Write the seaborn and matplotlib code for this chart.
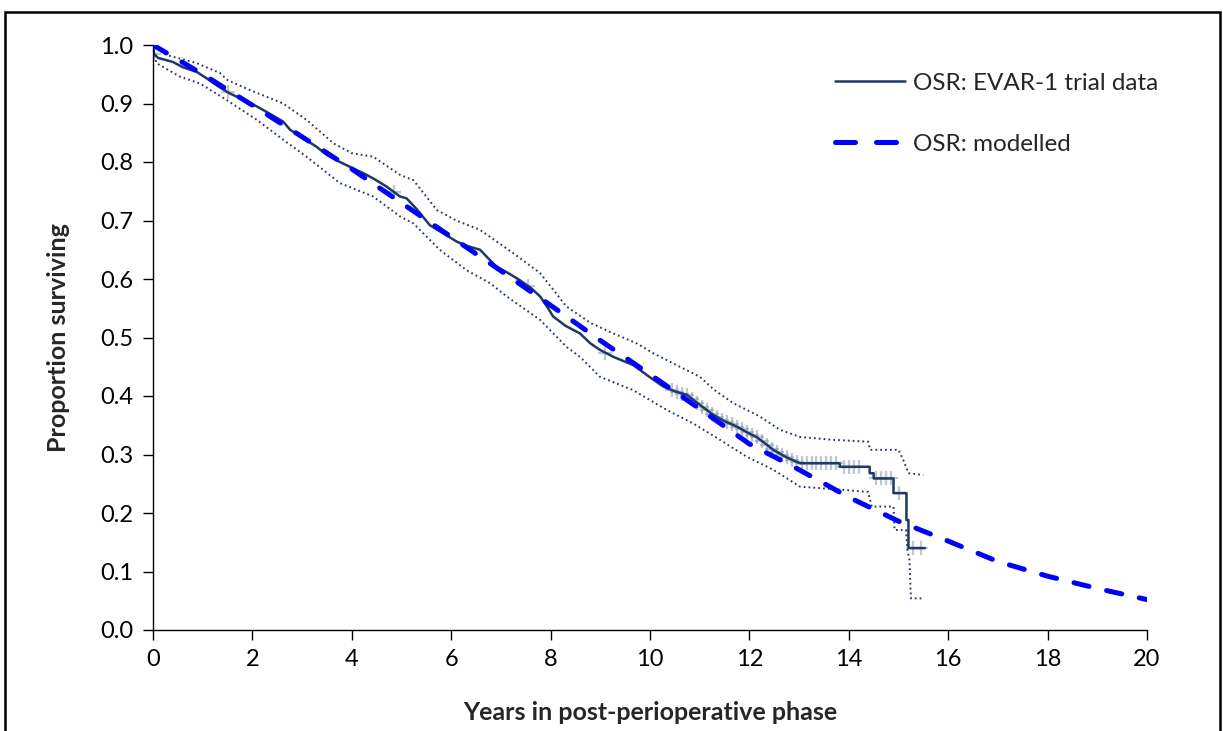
import numpy as np
import pandas as pd
import matplotlib
matplotlib.use("Agg")
import matplotlib.pyplot as plt
from matplotlib.lines import Line2D
from matplotlib.patches import Rectangle
import seaborn as sns

# ---- data ----
km_time = [0.0, 0.02, 0.1, 0.4, 0.6, 0.88, 1.08, 1.3, 1.55, 1.75, 2.09, 2.4, 2.62, 2.76,
           3.0, 3.29, 3.5, 3.76, 4.03, 4.25, 4.43, 4.70, 4.97, 5.1, 5.3, 5.57, 5.8, 6.11,
           6.3, 6.58, 6.75, 6.91, 7.15, 7.38, 7.6, 7.79, 7.95, 8.05, 8.3, 8.59, 8.8, 8.99,
           9.26, 9.66, 9.95, 10.27, 10.5, 10.74, 11.0, 11.27, 11.5, 11.74, 11.95, 12.14,
           12.3, 12.48, 12.75, 13.02, 13.82, 13.82, 14.42, 14.42, 14.5, 14.5, 14.9, 14.9,
           15.16, 15.16, 15.2, 15.2, 15.53]
km_surv = [1.0, 0.985, 0.978, 0.971, 0.962, 0.954, 0.943, 0.93, 0.917, 0.909, 0.895, 0.88,
           0.869, 0.855, 0.842, 0.826, 0.812, 0.80, 0.789, 0.78, 0.772, 0.758, 0.741, 0.738,
           0.72, 0.692, 0.68, 0.664, 0.657, 0.650, 0.635, 0.621, 0.61, 0.598, 0.585, 0.570,
           0.55, 0.536, 0.52, 0.507, 0.49, 0.479, 0.467, 0.453, 0.435, 0.416, 0.408, 0.402,
           0.385, 0.368, 0.357, 0.348, 0.338, 0.330, 0.32, 0.308, 0.295, 0.285, 0.285, 0.279,
           0.279, 0.268, 0.268, 0.259, 0.259, 0.234, 0.234, 0.188, 0.188, 0.14, 0.14]

upper_time = [0.0, 0.27, 0.88, 1.35, 1.5, 1.95, 2.62, 3.09, 3.63, 4.0, 4.43, 4.97, 5.24,
              5.71, 6.1, 6.58, 7.25, 7.79, 8.32, 8.8, 9.26, 9.73, 10.07, 10.6, 11.0, 11.3,
              11.67, 12.21, 12.62, 13.02, 13.69, 14.39, 14.43, 15.0, 15.1, 15.2, 15.5]
upper_surv = [1.0, 0.983, 0.969, 0.952, 0.94, 0.923, 0.900, 0.872, 0.832, 0.815, 0.809,
              0.778, 0.769, 0.718, 0.70, 0.684, 0.644, 0.610, 0.553, 0.525, 0.507, 0.49,
              0.473, 0.450, 0.433, 0.41, 0.388, 0.365, 0.342, 0.330, 0.325, 0.322, 0.308,
              0.308, 0.29, 0.268, 0.265]

lower_time = [0.0, 0.07, 0.54, 0.95, 1.48, 2.09, 2.62, 3.09, 3.76, 4.43, 4.97, 5.24, 5.77,
              6.31, 6.78, 7.12, 7.79, 8.32, 8.59, 8.99, 9.66, 10.34, 10.87, 11.41, 11.95,
              12.48, 13.02, 13.82, 14.39, 14.46, 14.9, 14.92, 15.15, 15.18, 15.22, 15.25,
              15.46]
lower_surv = [0.99, 0.969, 0.946, 0.934, 0.906, 0.872, 0.838, 0.809, 0.764, 0.741, 0.707,
              0.695, 0.650, 0.615, 0.593, 0.570, 0.530, 0.484, 0.467, 0.433, 0.41, 0.376,
              0.353, 0.325, 0.296, 0.274, 0.245, 0.24, 0.236, 0.211, 0.211, 0.171, 0.171,
              0.137, 0.12, 0.054, 0.054]

model_time = list(range(0, 21))
model_surv = [1.0, 0.95, 0.897, 0.843, 0.788, 0.730, 0.672, 0.614, 0.555, 0.495, 0.437,
              0.378, 0.318, 0.274, 0.227, 0.186, 0.152, 0.117, 0.092, 0.071, 0.052]

censor_time = [0.02, 1.5, 4.85, 7.55, 9.1, 10.45, 10.55, 10.65, 10.75, 10.85, 10.95, 11.05,
               11.15, 11.25, 11.35, 11.45, 11.55, 11.65, 11.75, 11.85, 11.95, 12.05, 12.15,
               12.25, 12.35, 12.45, 12.55, 12.65, 12.75, 12.85, 12.95, 13.05, 13.15, 13.25,
               13.35, 13.45, 13.55, 13.65, 13.75, 13.9, 14.0, 14.1, 14.2, 14.55, 14.65, 14.75,
               14.85, 15.0, 15.3, 15.45]

x_ticks = list(range(0, 21, 2))
y_ticks = [0.0, 0.1, 0.2, 0.3, 0.4, 0.5, 0.6, 0.7, 0.8, 0.9, 1.0]

km_label = "OSR: EVAR-1 trial data"
model_label = "OSR: modelled"
x_label = "Years in post-perioperative phase"
y_label = "Proportion surviving"

# ---- style ----
sns.set_style("ticks")
plt.rcParams["font.family"] = ["Lato", "DejaVu Sans"]

navy = "#1F3864"
blue = "#0000FF"
censor_col = "#7F90AC"

fig = plt.figure(figsize=(12.23, 7.31), dpi=100)
ax = fig.add_axes([153 / 1223, 1 - 630 / 731, (1147 - 153) / 1223, (630 - 45) / 731])

km_df = pd.DataFrame({"t": km_time, "s": km_surv})
up_df = pd.DataFrame({"t": upper_time, "s": upper_surv})
lo_df = pd.DataFrame({"t": lower_time, "s": lower_surv})
mo_df = pd.DataFrame({"t": model_time, "s": model_surv})

# censor marks placed on the KM curve
cen_df = pd.DataFrame({"t": censor_time,
                       "s": np.interp(censor_time, km_time, km_surv)})

for d in (up_df, lo_df):
    sns.lineplot(data=d, x="t", y="s", ax=ax, estimator=None, sort=False,
                 color=navy, linewidth=1.4, linestyle=(0, (0.9, 1.6)))

ax.plot(cen_df["t"], cen_df["s"], linestyle="none", marker="+", markersize=10,
        markeredgewidth=1.6, color=censor_col, alpha=0.5, zorder=2)

sns.lineplot(data=km_df, x="t", y="s", ax=ax, estimator=None, sort=False,
             color=navy, linewidth=1.8)

sns.lineplot(data=mo_df, x="t", y="s", ax=ax, estimator=None, sort=False,
             color=blue, linewidth=3.6)
ml = ax.get_lines()[-1]
ml.set_linestyle((0, (3.1, 3.6)))
ml.set_dash_capstyle("round")
ml.set_zorder(4)

ax.set_xlim(0, 20)
ax.set_ylim(0, 1.0)
ax.set_xticks(x_ticks)
ax.set_xticklabels([str(v) for v in x_ticks])
ax.set_yticks(y_ticks)
ax.set_yticklabels([f"{v:.1f}" for v in y_ticks])
ax.tick_params(axis="both", direction="out", length=7, width=1, colors="black",
               labelsize=17, pad=7)
for s in ("top", "right"):
    ax.spines[s].set_visible(False)
for s in ("left", "bottom"):
    ax.spines[s].set_color("black")
    ax.spines[s].set_linewidth(1.0)

ax.set_xlabel(x_label, fontsize=18, fontweight="bold", labelpad=22)
ax.set_ylabel(y_label, fontsize=18, fontweight="bold", labelpad=22)

handles = [Line2D([0], [0], color=navy, linewidth=1.8),
           Line2D([0], [0], color=blue, linewidth=3.6, linestyle=(0, (4.0, 4.2)),
                  dash_capstyle="round")]
ax.legend(handles, [km_label, model_label], loc="upper left",
          bbox_to_anchor=((835 - 153) / 994, 0.953), frameon=False, fontsize=17.5,
          handlelength=2.9, labelspacing=1.65, handletextpad=0.3,
          borderpad=0, borderaxespad=0)

fig.patches.append(Rectangle((5 / 1223, -0.05), 1215 / 1223, 1.05 - 12 / 731,
                             transform=fig.transFigure, fill=False,
                             edgecolor="black", linewidth=1.8))

fig.savefig("out.png", dpi=100, facecolor="white")
